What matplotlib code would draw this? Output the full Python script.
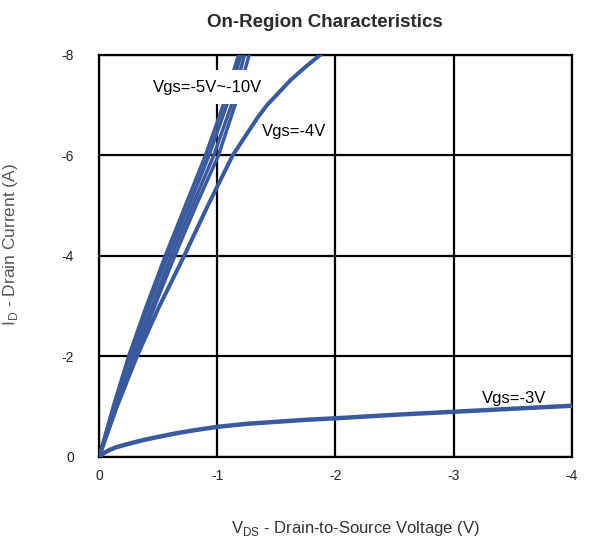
import matplotlib
matplotlib.use("Agg")
import matplotlib.pyplot as plt

plt.rcParams['font.family'] = ['Liberation Sans', 'DejaVu Sans']
plt.rcParams['axes.unicode_minus'] = False

# Drain-to-source voltage (V) and drain current (A) per gate voltage
vds_10 = [0, -0.12, -0.25, -0.40, -0.56, -0.73, -0.90, -1.05, -1.18, -1.26]
id_10 = [0, -1, -2, -3, -4, -5, -6, -7, -8, -8.6]
vds_8 = [0, -0.13, -0.27, -0.42, -0.58, -0.76, -0.93, -1.08, -1.20, -1.28]
id_8 = [0, -1, -2, -3, -4, -5, -6, -7, -8, -8.6]
vds_6 = [0, -0.14, -0.29, -0.45, -0.61, -0.79, -0.97, -1.12, -1.23, -1.31]
id_6 = [0, -1, -2, -3, -4, -5, -6, -7, -8, -8.6]
vds_5 = [0, -0.15, -0.31, -0.47, -0.64, -0.82, -1.01, -1.15, -1.27, -1.35]
id_5 = [0, -1, -2, -3, -4, -5, -6, -7, -8, -8.6]

vds_4 = [0, -0.15, -0.32, -0.51, -0.72, -0.92, -1.13, -1.20, -1.27, -1.34,
         -1.42, -1.52, -1.62, -1.74, -1.87, -2.02]
id_4 = [0, -1, -2, -3, -4, -5, -6, -6.25, -6.5, -6.75,
        -7, -7.25, -7.5, -7.75, -8, -8.2]

vds_3 = [0, -0.02, -0.05, -0.09, -0.14, -0.20, -0.28, -0.38, -0.50, -0.65, -0.80,
         -1.0, -1.25, -1.5, -1.75, -2.0, -2.5, -3.0, -3.5, -4.0]
id_3 = [0, -0.04, -0.09, -0.14, -0.19, -0.23, -0.28, -0.34, -0.40, -0.47, -0.53,
        -0.60, -0.66, -0.70, -0.74, -0.77, -0.84, -0.90, -0.96, -1.02]

x_ticks = [0, -1, -2, -3, -4]
y_ticks = [0, -2, -4, -6, -8]

color = '#3a5a9e'

fig = plt.figure(figsize=(5.92, 5.37), dpi=100)
ax = fig.add_axes([0.1672, 0.1490, 0.7990, 0.7486])

ax.set_xlim(0, -4)
ax.set_ylim(0, -8)
ax.set_xticks(x_ticks)
ax.set_yticks(y_ticks)
ax.set_xticklabels([str(v) for v in x_ticks])
ax.set_yticklabels([str(v) for v in y_ticks])
ax.tick_params(length=0, pad=9, labelsize=10, labelcolor='#222222')
ax.tick_params(axis='y', pad=18)
ax.grid(True, color='black', linewidth=1.6)
ax.set_axisbelow(True)
for s in ax.spines.values():
    s.set_linewidth(1.6)
    s.set_color('black')

for v, i in [(vds_5, id_5), (vds_6, id_6), (vds_8, id_8), (vds_10, id_10)]:
    ax.plot(v, i, color=color, linewidth=2.5, solid_capstyle='round', zorder=3)
ax.plot(vds_4, id_4, color=color, linewidth=2.9, zorder=6)
ax.plot(vds_3, id_3, color=color, linewidth=3.2, zorder=3)

ax.text(-0.92, -7.36, 'Vgs=-5V~-10V', fontsize=12, ha='center', va='center', zorder=5,
        bbox=dict(boxstyle='square,pad=0.55', facecolor='white', edgecolor='none'))
ax.text(-1.38, -6.47, 'Vgs=-4V', fontsize=12, ha='left', va='center', zorder=7)
ax.text(-3.51, -1.16, 'Vgs=-3V', fontsize=12, ha='center', va='center', zorder=5)

fig.text(0.549, 0.958, 'On-Region Characteristics', fontsize=13.5, fontweight='bold',
         ha='center', va='center', color='#2a2a2a')
fig.text(0.018, 0.544, r'I$_\mathregular{D}$ - Drain Current (A)', fontsize=12.5, rotation=90,
         ha='center', va='center', color='#555555')
fig.text(0.60, 0.016, r'V$_\mathregular{DS}$ - Drain-to-Source Voltage (V)', fontsize=12,
         ha='center', va='center', color='#333333')

fig.savefig('out.png', dpi=100)
